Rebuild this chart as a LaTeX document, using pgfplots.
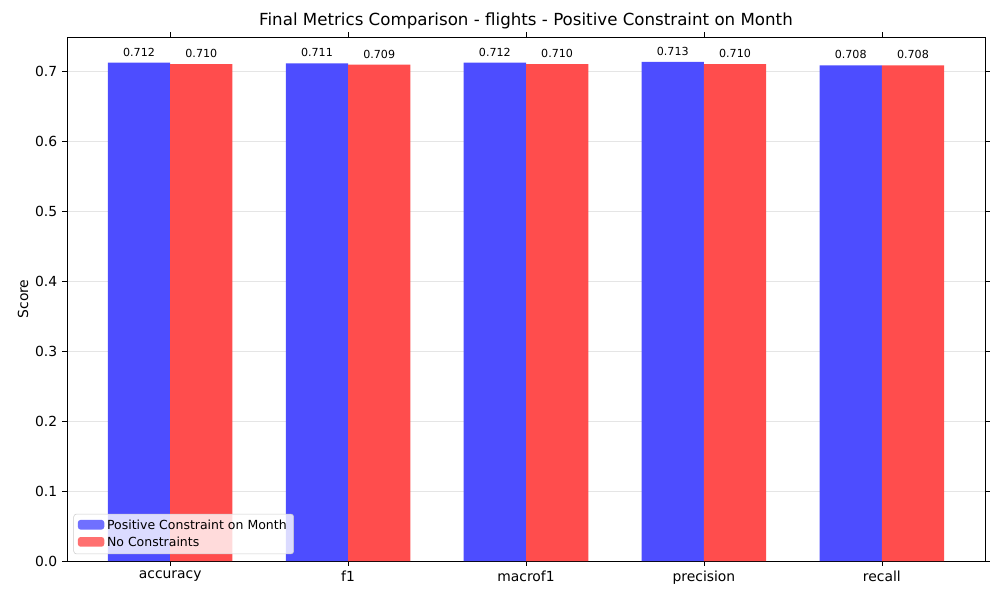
\documentclass[border=0pt]{standalone}
\usepackage{pgfplots}
\pgfplotsset{compat=1.18}
\usepackage{fontspec}
\setmainfont{DejaVu Sans}
\definecolor{bblue}{RGB}{77,77,255}
\definecolor{rred}{RGB}{255,77,77}
\begin{document}
\begin{tikzpicture}
\path[use as bounding box] (-48.24pt,-28.08pt) rectangle (671.76pt,403.92pt);
\begin{axis}[at={(0,0)},anchor=south west,
 scale only axis, width=660.96pt, height=377.28pt,
 xmin=-0.58, xmax=4.58, ymin=0, ymax=0.7486,
 ybar=0pt, bar width=0.35,
 xtick=data, xticklabels={accuracy,f1,macrof1,precision,recall},
 ytick={0,0.1,...,0.7},
 yticklabel style={/pgf/number format/.cd,fixed,fixed zerofill,precision=1},
 /pgf/number format/assume math mode=true,
 tick align=outside, tick style={black, major tick length=3.5pt},
 ymajorgrids, grid style={gray!20},
 ylabel={Score}, ylabel style={yshift=-2pt},
 title={\fontsize{12}{14}\selectfont Final Metrics Comparison - flights - Positive Constraint on Month},
 title style={yshift=-4pt},
 nodes near coords,
 every node near coord/.append style={font=\fontsize{8}{9}\selectfont, yshift=1pt, /pgf/number format/.cd,fixed,fixed zerofill,precision=3},
 legend style={at={(0.007,0.013)},anchor=south west, fill=white, fill opacity=0.8, text opacity=1, draw=gray!40, rounded corners=2pt, font=\small},
 legend cell align=left,
 legend image code/.code={\fill[#1] (0pt,-3pt) rectangle (19pt,4pt);},
]
\addplot[fill=bblue, draw=none] coordinates {(0,0.712) (1,0.711) (2,0.712) (3,0.713) (4,0.708)};
\addplot[fill=rred, draw=none] coordinates {(0,0.710) (1,0.709) (2,0.710) (3,0.710) (4,0.708)};
\legend{Positive Constraint on Month, No Constraints}
\end{axis}
\end{tikzpicture}
\end{document}
